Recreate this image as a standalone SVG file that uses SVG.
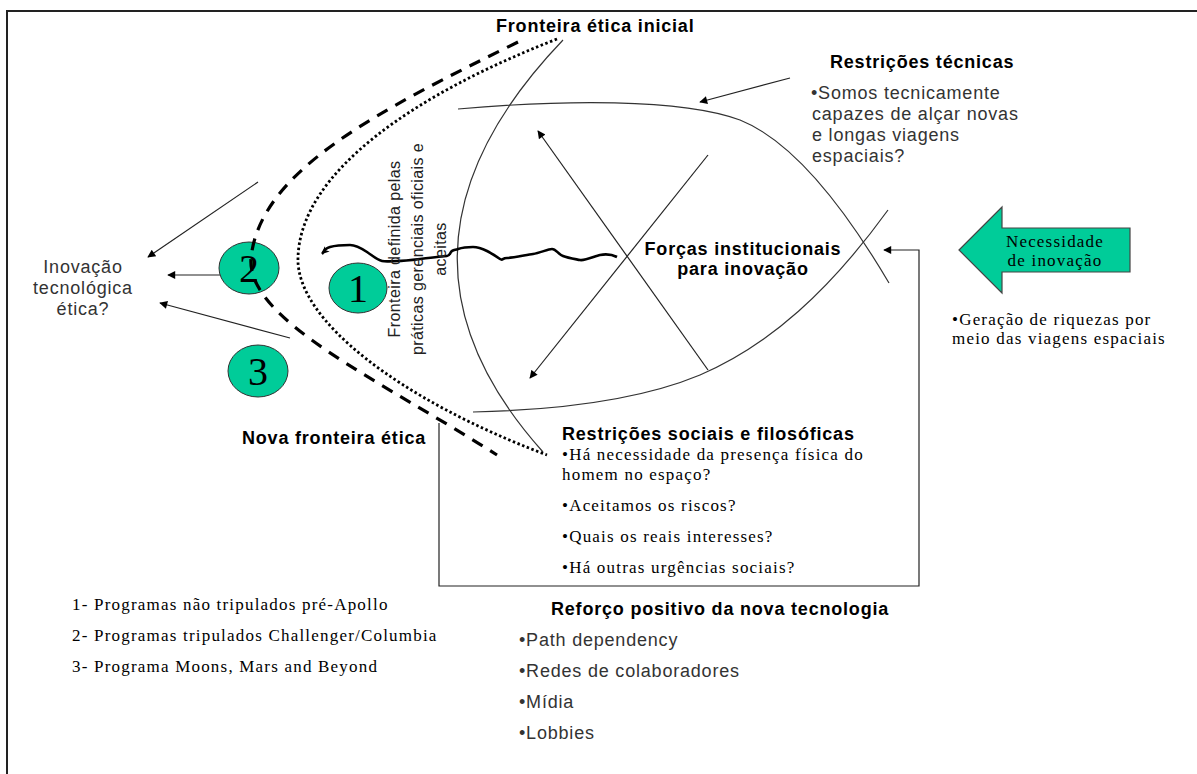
<svg xmlns="http://www.w3.org/2000/svg" width="1197" height="774" viewBox="0 0 1197 774">
<defs>
<style>
.thin{fill:none;stroke:#333;stroke-width:1.2}
.arr{fill:none;stroke:#222;stroke-width:1.2;marker-end:url(#ah)}
.sans{font-family:"Liberation Sans",Arial,sans-serif;font-size:18px;letter-spacing:0.8px;fill:#333}
.bold{font-family:"Liberation Sans",Arial,sans-serif;font-size:18px;font-weight:bold;letter-spacing:0.8px;fill:#000}
.serif{font-family:"Liberation Serif","Times New Roman",serif;font-size:17px;letter-spacing:1.2px;fill:#000}
.num{font-family:"Liberation Serif","Times New Roman",serif;font-size:40px;fill:#000;text-anchor:middle}
.circ{fill:#00CC99;stroke:#333;stroke-width:1}
</style>
<marker id="ah" viewBox="0 0 10 10" refX="9" refY="5" markerWidth="10" markerHeight="8" markerUnits="userSpaceOnUse" orient="auto">
<path d="M0,0 L10,5 L0,10 z" fill="#000"/>
</marker>
<marker id="wh" viewBox="0 0 10 10" refX="9" refY="5" markerWidth="9" markerHeight="9" markerUnits="userSpaceOnUse" orient="auto">
<path d="M1,1 L9,5 L1,9 L3,5 z" fill="#000"/>
</marker>
</defs>
<rect width="1197" height="774" fill="#fff"/>
<path d="M7,774 V11 H1197" fill="none" stroke="#222" stroke-width="2"/>

<g id="lens">
<path class="thin" d="M458,109 C560,100 680,98 740,120 C790,140 840,200 889,283"/>
<path class="thin" d="M473,412 C560,410 640,400 700,375 C770,345 830,290 888,210"/>
<path class="thin" d="M563,40 Q362,250 543,452"/>
</g>

<g id="circle2">
<ellipse class="circ" cx="249" cy="268" rx="30" ry="26"/>
<text class="num" x="249" y="282">2</text>
</g>
<g id="circle1">
<ellipse class="circ" cx="358" cy="288" rx="29" ry="25"/>
<text class="num" x="358" y="302">1</text>
</g>
<g id="circle3">
<ellipse class="circ" cx="258" cy="371" rx="30" ry="26"/>
<text class="num" x="258" y="385">3</text>
</g>

<g id="frontiers">
<path d="M518,42 C380,110 260,170 251,258 C246,320 380,380 497,455" fill="none" stroke="#000" stroke-width="3.2" stroke-dasharray="12 9"/>
<path d="M557,39 C420,92 300,170 298,258 C296,320 400,400 547,455" fill="none" stroke="#000" stroke-width="2.8" stroke-dasharray="2.5 2.5"/>
</g>

<g id="connectors">
<path class="arr" d="M258,182 L148,257"/>
<path class="arr" d="M220,275 L168,275"/>
<path class="arr" d="M290,338 L160,303"/>
<path class="arr" d="M790,78 L700,102"/>
<path class="arr" d="M708,370 L538,131"/>
<path class="arr" d="M708,155 L530,378"/>
<path class="arr" d="M439,423 V586 H919 V250 H884"/>
<path d="M617,257 C611,254 605,254 600,255 S585,261 580,260 S568,258 563,256 S556,249 552,249 S540,253 533,254 S512,258 507,258 S503,261 500,259 S491,253 487,251 S478,247 473,247 S461,248 458,249 S454,250 452,251 S450,256 447,256 S428,258 420,259 S402,261 397,261 S387,262 382,261 S373,256 367,252 S356,245 350,245 S337,245 330,247 S324,252 322,254" fill="none" stroke="#000" stroke-width="2.6" stroke-linejoin="round" marker-end="url(#wh)"/>
</g>

<g id="necessidade">
<path d="M959,250 L1002,207 L1002,228 L1130,228 L1130,272 L1002,272 L1002,293 Z" fill="#00CC99" stroke="#444" stroke-width="1.2"/>
<text class="serif" x="1055" y="247" text-anchor="middle" letter-spacing="1">Necessidade</text>
<text class="serif" x="1055" y="266" text-anchor="middle" letter-spacing="1">de inovação</text>
</g>

<g id="labels">
<text class="bold" x="496" y="32">Fronteira ética inicial</text>
<text class="bold" x="830" y="68">Restrições técnicas</text>
<text class="sans" x="811" y="99">•Somos tecnicamente</text>
<text class="sans" x="812" y="120">capazes de alçar novas</text>
<text class="sans" x="812" y="141">e longas viagens</text>
<text class="sans" x="812" y="162">espaciais?</text>
<text class="bold" x="743" y="255" text-anchor="middle">Forças institucionais</text>
<text class="bold" x="743" y="275" text-anchor="middle">para inovação</text>
<text class="sans" x="83" y="273" text-anchor="middle">Inovação</text>
<text class="sans" x="83" y="294" text-anchor="middle">tecnológica</text>
<text class="sans" x="83" y="315" text-anchor="middle">ética?</text>
<text transform="translate(400,249) rotate(-90)" font-family="Liberation Sans, Arial, sans-serif" font-size="16" letter-spacing="0.4" fill="#222" text-anchor="middle"><tspan x="0" y="0">Fronteira definida pelas</tspan><tspan x="0" y="23">práticas gerenciais oficiais e</tspan><tspan x="0" y="46">aceitas</tspan></text>
<text class="serif" x="952" y="325" letter-spacing="1.1">•Geração de riquezas por</text>
<text class="serif" x="952" y="344" letter-spacing="1.1">meio das viagens espaciais</text>
<text class="bold" x="242" y="444">Nova fronteira ética</text>
<text class="bold" x="562" y="440">Restrições sociais e filosóficas</text>
<text class="serif" x="562" y="460">•Há necessidade da presença física do</text>
<text class="serif" x="562" y="480">homem no espaço?</text>
<text class="serif" x="562" y="511">•Aceitamos os riscos?</text>
<text class="serif" x="562" y="542">•Quais os reais interesses?</text>
<text class="serif" x="562" y="573">•Há outras urgências sociais?</text>
<text class="bold" x="551" y="615">Reforço positivo da nova tecnologia</text>
<text class="sans" x="519" y="646">•Path dependency</text>
<text class="sans" x="519" y="677">•Redes de colaboradores</text>
<text class="sans" x="519" y="708">•Mídia</text>
<text class="sans" x="519" y="739">•Lobbies</text>
<text class="serif" x="72" y="610">1- Programas não tripulados pré-Apollo</text>
<text class="serif" x="72" y="641">2- Programas tripulados Challenger/Columbia</text>
<text class="serif" x="72" y="672">3- Programa Moons, Mars and Beyond</text>
</g>
</svg>
